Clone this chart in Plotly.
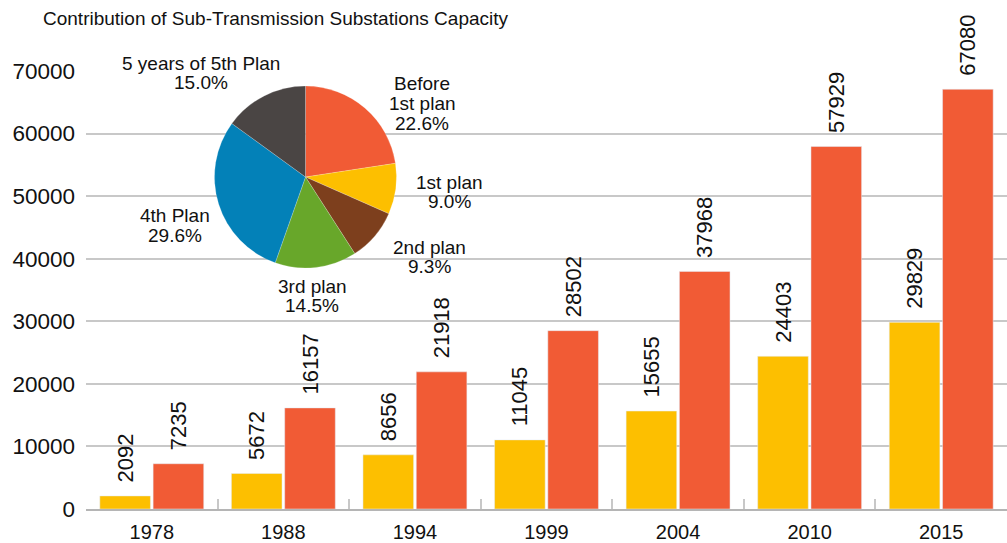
import plotly.graph_objects as go

years = ["1978", "1988", "1994", "1999", "2004", "2010", "2015"]
series_a = [2092, 5672, 8656, 11045, 15655, 24403, 29829]
series_b = [7235, 16157, 21918, 28502, 37968, 57929, 67080]

pie_labels = ["Before<br>1st plan", "1st plan", "2nd plan", "3rd plan", "4th Plan", "5 years of 5th Plan"]
pie_values = [22.6, 9.0, 9.3, 14.5, 29.6, 15.0]
pie_colors = ["#F15B35", "#FDBF00", "#7D3F1D", "#68A72A", "#0381B8", "#4A4544"]

YELLOW = "#FDBF00"
RED = "#F15B35"
FONT = "Liberation Sans, Arial, Helvetica, sans-serif"

# plot area in pixels
L, R, T, B = 86, 0, 71, 34
W, H = 1007, 543
PW, PH = W - L - R, H - T - B

def px(x):
    return (x - L) / PW

def py(y):
    return (H - B - y) / PH

LEAD = "\u00a0\u2009"  # small spacer so the rotated value sits a bit above the bar

fig = go.Figure()
for vals, col in ((series_a, YELLOW), (series_b, RED)):
    fig.add_trace(go.Bar(x=years, y=vals, marker_color=col, text=[LEAD + str(v) for v in vals],
                         textposition="outside", textangle=-90, cliponaxis=False,
                         constraintext="none",
                         textfont=dict(size=22, color="#111"), showlegend=False))

# pie
cx, cy, r = 305.5, 177, 91
fig.add_trace(go.Pie(labels=pie_labels, values=pie_values, sort=False, direction="clockwise",
                     marker=dict(colors=pie_colors, line=dict(color="rgba(255,255,255,0.4)", width=0.5)),
                     textinfo="none", hoverinfo="label+percent", showlegend=False,
                     domain=dict(x=[px(cx - r), px(cx + r)], y=[py(cy + r), py(cy - r)])))

# label anchor: (center x, center y of first line)
label_pos = [(422, 84), (449, 182), (429, 247), (312, 286), (175, 216), (201, 63)]
LINE = 19.5
annotations = []
for lab, val, (lx, ly) in zip(pie_labels, pie_values, label_pos):
    lines = lab.split("<br>") + [f"{val:.1f}%"]
    for i, ln in enumerate(lines):
        annotations.append(dict(x=px(lx), y=py(ly + i * LINE), xref="paper", yref="paper",
                                showarrow=False, text=ln, xanchor="center", yanchor="middle",
                                font=dict(size=19, color="#111", family=FONT)))

fig.update_layout(
    width=W, height=H,
    margin=dict(l=L, r=R, t=T, b=B, autoexpand=False),
    paper_bgcolor="white", plot_bgcolor="white",
    font=dict(family=FONT, color="#111"),
    barmode="group", bargap=0.19, bargroupgap=0.05,
    title=dict(text="Contribution of Sub-Transmission Substations Capacity",
               x=43 / W, xanchor="left", xref="container",
               y=1 - 18 / H, yanchor="middle", yref="container",
               font=dict(size=19, color="#111", family=FONT)),
    annotations=annotations,
    xaxis=dict(showgrid=False, showline=True, linecolor="#B5B5B5", linewidth=2,
               ticks="inside", tickson="boundaries", ticklen=10, tickcolor="#C8C8C8", tickwidth=2,
               ticklabelstandoff=4,
               tickfont=dict(size=20, color="#111"), automargin=False, fixedrange=True),
    yaxis=dict(range=[0, 70000], dtick=10000, tickformat="d", showgrid=True, gridcolor="#C8C8C8",
               gridwidth=1.5, zeroline=False, showline=False, ticks="", ticklabelstandoff=10,
               tickfont=dict(size=22.5, color="#111"), automargin=False, fixedrange=True),
)

fig.write_html("out.html", config={"displayModeBar": False},
               post_script="document.body.style.margin='0';document.body.style.overflow='hidden';")
